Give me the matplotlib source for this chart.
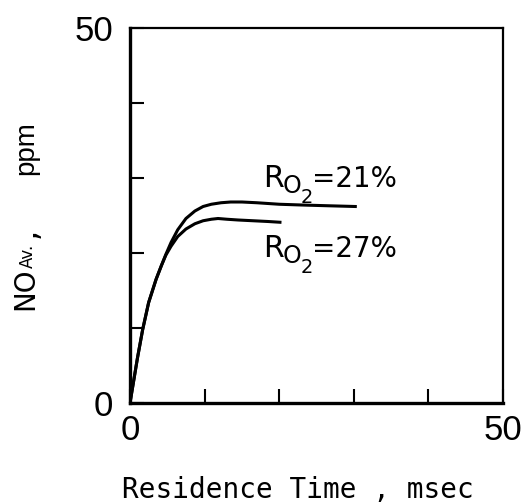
import matplotlib
matplotlib.use('Agg')
import matplotlib.pyplot as plt
from matplotlib import font_manager

W, H = 524, 504  # 输出像素尺寸


def pick_font(names):
    # 返回第一个已安装的字体
    for n in names:
        try:
            font_manager.findfont(n, fallback_to_default=False)
            return n
        except ValueError:
            pass
    return 'DejaVu Sans'


NARROW = pick_font(['Liberation Sans Narrow', 'Liberation Sans'])
MONO = 'DejaVu Sans Mono'
plt.rcParams['font.family'] = ['DejaVu Sans']

# 停留时间 (msec) 与 NO 平均浓度 (ppm)
t_21 = [0, 0.5, 1.0, 1.7, 2.5, 3.5, 4.2, 4.8, 5.5, 6.4, 7.5, 8.7, 9.8, 10.9,
        12.2, 13.5, 15.0, 17.0, 20.0, 23.0, 26.5, 30.2]
no_21 = [0, 3.0, 6.0, 9.8, 13.4, 16.5, 18.3, 19.8, 21.4, 23.1, 24.6, 25.6, 26.2, 26.5,
         26.7, 26.8, 26.8, 26.7, 26.5, 26.4, 26.3, 26.2]

t_27 = [0, 0.5, 1.0, 1.7, 2.5, 3.5, 4.2, 4.8, 5.5, 6.4, 7.5, 8.7, 9.8, 10.9,
        11.8, 13.0, 14.5, 16.5, 18.5, 20.1]
no_27 = [0, 3.0, 6.0, 9.8, 13.4, 16.5, 18.3, 19.7, 20.9, 22.2, 23.2, 23.9, 24.3, 24.5,
         24.6, 24.5, 24.4, 24.3, 24.2, 24.1]

series_names = ['21%', '27%']
# 标签基线位置 (像素, 左上为原点)
label_px = [(263, 187), (263, 257)]


def ftext(px, py, s, **kw):
    return fig.text(px / W, 1 - py / H, s, **kw)


fig = plt.figure(figsize=(W / 100, H / 100), dpi=100)
ax = fig.add_axes([130 / W, 1 - 403 / H, 373 / W, 375 / H])

ax.plot(t_21, no_21, color='black', linewidth=2.2, solid_joinstyle='round')
ax.plot(t_27, no_27, color='black', linewidth=2.2, solid_joinstyle='round')

# R_O2 = xx% 标注
for name, (px, py) in zip(series_names, label_px):
    ftext(px, py, 'R', fontsize=21.5, va='baseline')
    ftext(px + 20, py + 6, 'O', fontsize=17, va='baseline')
    ftext(px + 38, py + 16, '2', fontsize=14, va='baseline')
    ftext(px + 49, py, '=' + name, fontsize=20, va='baseline')

ax.set_xlim(0, 50)
ax.set_ylim(0, 50)
ax.set_xticks(range(0, 51, 10))
ax.set_xticklabels(['0', '', '', '', '', '50'])
ax.set_yticks(range(0, 51, 10))
ax.set_yticklabels(['0', '', '', '', '', '50'])
ax.tick_params(direction='in', length=10, width=1.5, labelsize=25)
ax.tick_params(axis='x', pad=8)
ax.tick_params(axis='y', pad=12)
for lab in ax.get_xticklabels() + ax.get_yticklabels():
    lab.set_fontfamily(NARROW)

for side in ['left', 'bottom']:
    ax.spines[side].set_linewidth(2.4)
for side in ['top', 'right']:
    ax.spines[side].set_linewidth(1.6)

# x 轴标签
ftext(297.5, 498, 'Residence Time , msec', fontsize=20, family=MONO,
      ha='center', va='baseline')

# y 轴标签: NO(Av.) , ppm
rot = dict(rotation=90, rotation_mode='anchor', ha='left', va='baseline')
ftext(33, 310, 'NO', fontsize=20, **rot)
ftext(33, 268, 'Av.', fontsize=12, **rot)
ftext(33, 238, ',', fontsize=20, family=MONO, **rot)
ftext(33, 175, 'ppm', fontsize=20, family=NARROW, **rot)

plt.savefig('out.png', dpi=100)
plt.close()
